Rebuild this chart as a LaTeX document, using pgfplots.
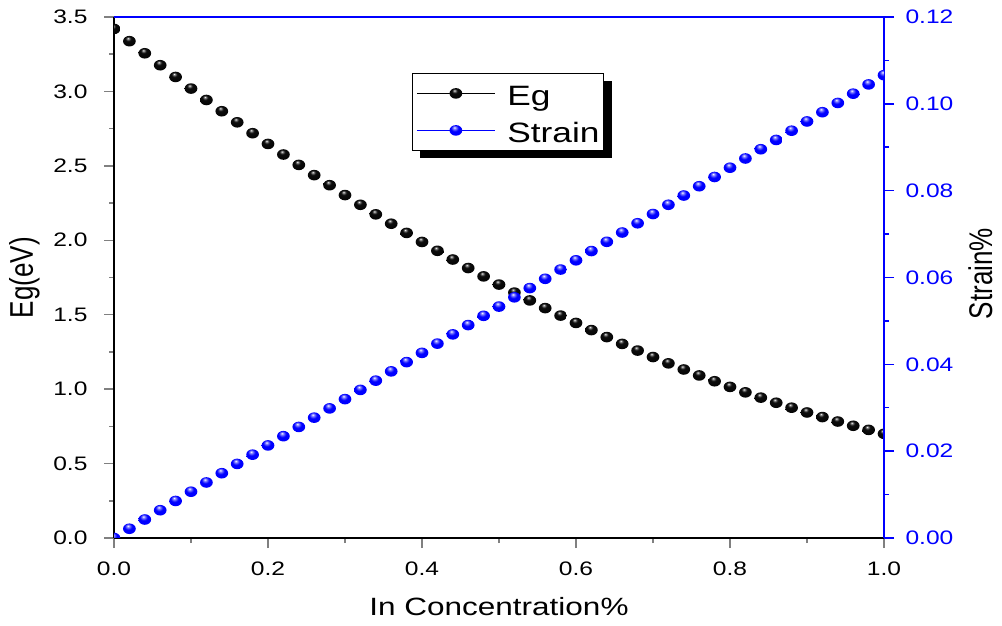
\documentclass[border=0pt]{standalone}
\usepackage{pgfplots}
\pgfplotsset{compat=1.18}
\usepackage{pgfplotstable}
\usepackage{fontspec}
\setmainfont{Liberation Sans}[FakeStretch=1.26]
\newfontfamily\rotfont{Liberation Sans}[FakeStretch=0.794]
\usetikzlibrary{shadows}

\definecolor{strainblue}{RGB}{0,0,255}

% glossy sphere shadings for the markers
\pgfdeclareradialshading{blackballsh}{\pgfpoint{-6bp}{14bp}}{%
  color(0bp)=(white); color(4bp)=(black!50); color(11bp)=(black!95);
  color(40bp)=(black); color(64bp)=(black)}
\pgfdeclareradialshading{blueballsh}{\pgfpoint{-6bp}{14bp}}{%
  color(0bp)=(white); color(5bp)=(strainblue!45!white); color(15bp)=(strainblue);
  color(42bp)=(strainblue); color(64bp)=(strainblue!55!black)}
\pgfdeclareplotmark{blackball}{%
  \pgfpathellipse{\pgfpointorigin}{\pgfqpoint{1.2\pgfplotmarksize}{0pt}}{\pgfqpoint{0pt}{\pgfplotmarksize}}%
  \pgfshadepath{blackballsh}{0}\pgfusepath{}}
\pgfdeclareplotmark{blueball}{%
  \pgfpathellipse{\pgfpointorigin}{\pgfqpoint{1.2\pgfplotmarksize}{0pt}}{\pgfqpoint{0pt}{\pgfplotmarksize}}%
  \pgfshadepath{blueballsh}{0}\pgfusepath{}}

% In-content dependence of band gap and strain
\pgfplotstableread{
x     Eg      Strain
0.00  3.4200  0.00000
0.02  3.3376  0.00213
0.04  3.2563  0.00426
0.06  3.1761  0.00640
0.08  3.0972  0.00853
0.10  3.0193  0.01066
0.12  2.9426  0.01279
0.14  2.8670  0.01492
0.16  2.7926  0.01706
0.18  2.7193  0.01919
0.20  2.6472  0.02132
0.22  2.5762  0.02345
0.24  2.5064  0.02558
0.26  2.4377  0.02772
0.28  2.3701  0.02985
0.30  2.3037  0.03198
0.32  2.2384  0.03411
0.34  2.1743  0.03624
0.36  2.1113  0.03838
0.38  2.0495  0.04051
0.40  1.9888  0.04264
0.42  1.9293  0.04477
0.44  1.8708  0.04690
0.46  1.8136  0.04904
0.48  1.7575  0.05117
0.50  1.7025  0.05330
0.52  1.6487  0.05543
0.54  1.5960  0.05756
0.56  1.5444  0.05970
0.58  1.4941  0.06183
0.60  1.4448  0.06396
0.62  1.3967  0.06609
0.64  1.3497  0.06822
0.66  1.3039  0.07036
0.68  1.2592  0.07249
0.70  1.2157  0.07462
0.72  1.1733  0.07675
0.74  1.1321  0.07888
0.76  1.0920  0.08102
0.78  1.0530  0.08315
0.80  1.0152  0.08528
0.82  0.9785  0.08741
0.84  0.9430  0.08954
0.86  0.9086  0.09168
0.88  0.8754  0.09381
0.90  0.8433  0.09594
0.92  0.8124  0.09807
0.94  0.7825  0.10020
0.96  0.7539  0.10234
0.98  0.7264  0.10447
1.00  0.7000  0.10660
}\datatable

\newcommand{\ticklabelfont}{\fontsize{19.5bp}{23bp}\selectfont}
\newcommand{\xlabelfont}{\fontsize{25bp}{29bp}\selectfont}
\newcommand{\ylabelfont}{\rotfont\fontsize{32.8bp}{36bp}\selectfont}
\newcommand{\legendfont}{\fontsize{28bp}{32bp}\selectfont}

\pgfplotsset{
  common/.style={
    at={(114bp,88bp)}, anchor=south west,
    scale only axis, width=770bp, height=521bp,
    xmin=0, xmax=1,
    major tick length=10bp, minor tick length=5bp,
    major tick style={line width=1.5bp},
    minor tick style={line width=1.5bp},
    axis line style={line width=1.5bp},
    /pgf/number format/assume math mode=true,
    tick label style={font=\ticklabelfont},
    xticklabel shift=10bp, yticklabel shift=8bp,
    clip marker paths=true,
  },
  ballmark/.style={only marks, mark=#1ball, mark size=5.3bp, color=#1},
}

\begin{document}
\begin{tikzpicture}
\useasboundingbox (0bp,0bp) rectangle (1002bp,626bp);

% left axis: band gap
\begin{axis}[common,
  axis x line*=bottom, axis y line*=left,
  tick align=outside,
  xtick={0,0.2,0.4,0.6,0.8,1}, minor x tick num=1,
  ymin=0, ymax=3.5, ytick={0,0.5,1,1.5,2,2.5,3,3.5}, minor y tick num=1,
  xticklabel style={/pgf/number format/fixed, /pgf/number format/fixed zerofill, /pgf/number format/precision=1},
  yticklabel style={xshift=-5bp, /pgf/number format/fixed, /pgf/number format/fixed zerofill, /pgf/number format/precision=1},
  xlabel={In Concentration\%},
  every axis x label/.style={at={(axis description cs:0.5,-0.1497)}, anchor=base, font=\xlabelfont},
  ylabel={Eg(eV)},
  every axis y label/.style={at={(axis description cs:-0.1052,0.5)}, anchor=base, rotate=90, font=\ylabelfont},
]
\addplot[ballmark=black] table[x=x, y=Eg] {\datatable};
\end{axis}

% right axis: strain
\begin{axis}[common,
  axis x line*=top, axis y line*=right,
  tick align=outside,
  xtick=\empty, minor x tick num=0,
  ymin=0, ymax=0.12, ytick={0,0.02,0.04,0.06,0.08,0.10,0.12}, minor y tick num=1,
  x axis line style={strainblue}, y axis line style={strainblue},
  ytick style={strainblue},
  yticklabel style={strainblue, /pgf/number format/fixed, /pgf/number format/fixed zerofill, /pgf/number format/precision=2},
  ylabel={Strain\%},
  every axis y label/.style={at={(axis description cs:1.1403,0.5077)}, anchor=base, rotate=90, font=\ylabelfont},
  legend image code/.code={
    \begin{scope}[#1]
      \pgfpathmoveto{\pgfqpoint{0bp}{0bp}}%
      \pgfpathlineto{\pgfqpoint{78bp}{0bp}}%
      \pgfsetlinewidth{1bp}\pgfusepath{stroke}%
    \end{scope}
    \draw[#1] plot coordinates {(39bp,0bp)};
  },
  legend cell align=left,
  legend style={
    at={(axis description cs:0.387,0.8925)}, anchor=north west,
    draw=black, line width=0.8bp, fill=white,
    drop shadow={shadow xshift=8bp, shadow yshift=-8bp, opacity=1, fill=black},
    inner xsep=4bp, inner ysep=8bp,
    row sep=13bp,
    font=\legendfont,
    nodes={inner sep=0pt, text height=24bp, text depth=0bp},
    /tikz/every odd column/.append style={column sep=12bp},
  },
]
\addlegendimage{ballmark=black}
\addlegendentry{Eg}
\addplot[ballmark=blue] table[x=x, y=Strain] {\datatable};
\addlegendentry{Strain}
\end{axis}
\end{tikzpicture}
\end{document}
